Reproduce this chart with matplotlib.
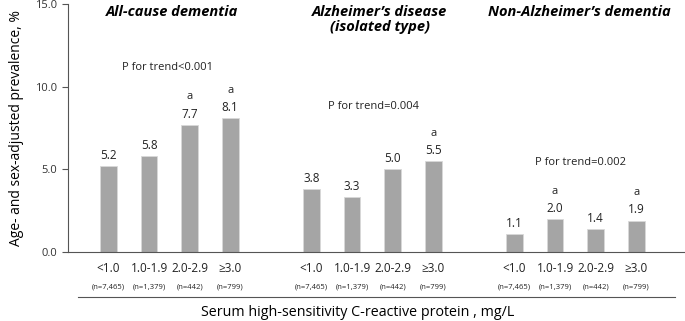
import matplotlib.pyplot as plt

plt.rcParams['font.family'] = ['Open Sans', 'DejaVu Sans']

# data
groups = ["All-cause dementia", "Alzheimer\u2019s disease\n(isolated type)", "Non-Alzheimer\u2019s dementia"]
crp_levels = ["<1.0", "1.0-1.9", "2.0-2.9", "\u22653.0"]
n_labels = ["(n=7,465)", "(n=1,379)", "(n=442)", "(n=799)"]
all_cause = [5.2, 5.8, 7.7, 8.1]
alzheimer = [3.8, 3.3, 5.0, 5.5]
non_alzheimer = [1.1, 2.0, 1.4, 1.9]
all_cause_sig = ["", "", "a", "a"]
alzheimer_sig = ["", "", "", "a"]
non_alzheimer_sig = ["", "a", "", "a"]
p_trend = ["P for trend<0.001", "P for trend=0.004", "P for trend=0.002"]

series = [all_cause, alzheimer, non_alzheimer]
sig = [all_cause_sig, alzheimer_sig, non_alzheimer_sig]

fig = plt.figure(figsize=(6.85, 3.21), dpi=100)
ax = fig.add_axes([0.099, 0.215, 0.901, 0.772])

bar_color = "#a5a5a5"
offsets = [0, 5, 10]
title_x = [1.56, 6.68, 11.6]
p_pos = [(1.46, 11.15), (6.54, 8.8), (11.63, 5.4)]

for g, vals in enumerate(series):
    xs = [offsets[g] + i for i in range(len(vals))]
    ax.bar(xs, vals, width=0.41, color=bar_color, edgecolor="#d9d9d9", linewidth=0.6)
    for x, v, s in zip(xs, vals, sig[g]):
        ax.text(x, v + 0.25, f"{v:.1f}", ha="center", va="bottom", fontsize=8.5, color="#222222")
        if s:
            ax.text(x, v + 1.35, s, ha="center", va="bottom", fontsize=8, color="#222222")
    for x, c, n in zip(xs, crp_levels, n_labels):
        ax.text(x, -0.97, c, ha="center", va="center", fontsize=8.5, color="#222222")
        ax.text(x, -2.12, n, ha="center", va="center", fontsize=5.5, color="#222222")
    ax.text(title_x[g], 14.95, groups[g], ha="center", va="top", fontsize=10.5,
            fontweight="bold", fontstyle="italic", linespacing=1.1)
    ax.text(p_pos[g][0], p_pos[g][1], p_trend[g], ha="center", va="center", fontsize=8,
            color="#222222")

ax.set_xlim(-1.0, 14.2)
ax.set_ylim(0, 15)
ax.set_yticks([0, 5, 10, 15])
ax.set_yticklabels(["0.0", "5.0", "10.0", "15.0"], fontsize=8, color="#333333")
ax.set_xticks([])
ax.tick_params(axis="y", length=4, width=0.8, color="#555555", direction="out")
ax.spines["top"].set_visible(False)
ax.spines["right"].set_visible(False)
ax.spines["left"].set_color("#555555")
ax.spines["bottom"].set_color("#555555")
ax.set_ylabel("Age- and sex-adjusted prevalence, %", fontsize=10, labelpad=8)

# separator line and x label below categories
fig.add_artist(plt.Line2D([78 / 685, 675 / 685], [1 - 297 / 321, 1 - 297 / 321],
                          color="#555555", linewidth=0.8))
fig.text(358 / 685, 1 - 312 / 321, "Serum high-sensitivity C-reactive protein , mg/L",
         ha="center", va="center", fontsize=10.3)

fig.savefig("out.png", dpi=100)
